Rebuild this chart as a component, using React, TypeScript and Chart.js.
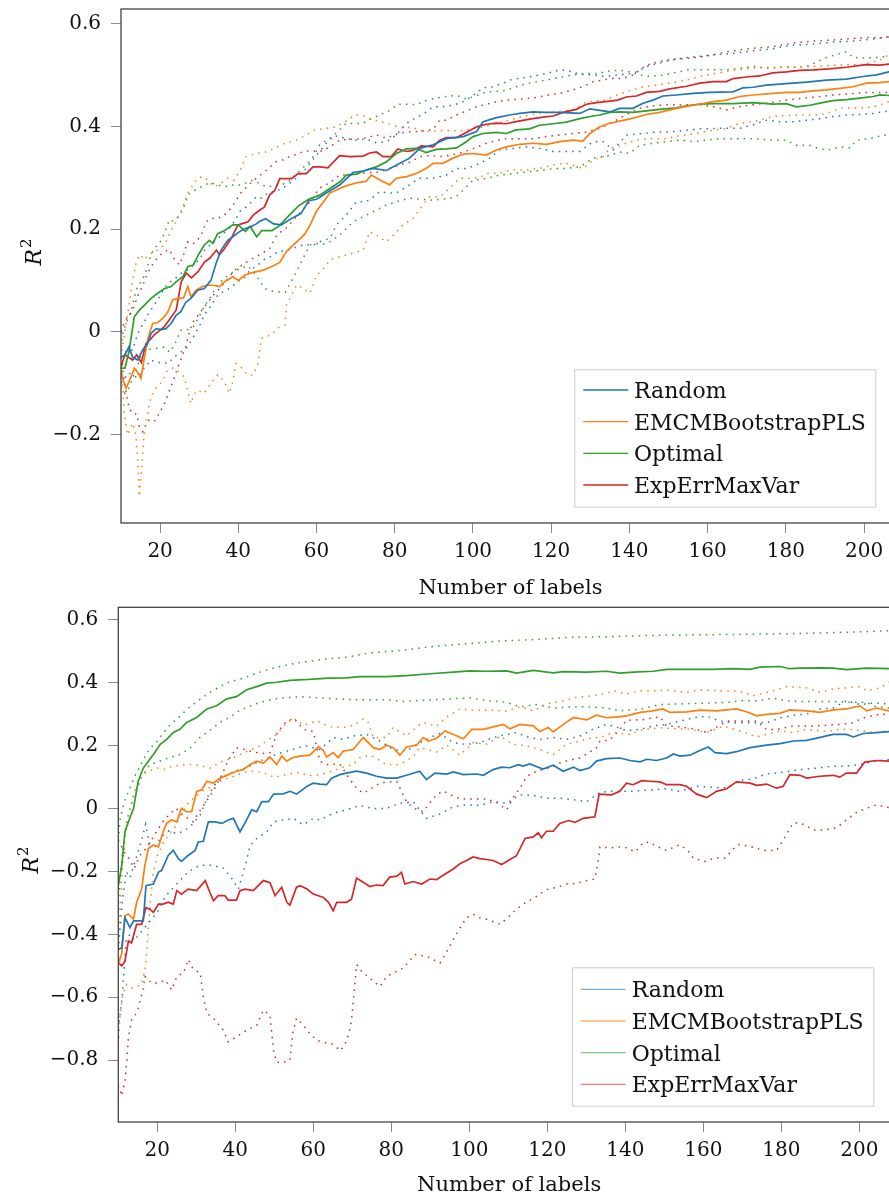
import React, { useEffect, useRef } from 'react';
import { Chart, registerables } from 'chart.js';

Chart.register(...registerables);

type P = [number, number][];

const FONT = "'DejaVu Serif', serif";
const seriesLabels = ['Random', 'EMCMBootstrapPLS', 'Optimal', 'ExpErrMaxVar'];
const seriesColors = ['#1f77b4', '#ff7f0e', '#2ca02c', '#d62728'];
const xTickValues = [20, 40, 60, 80, 100, 120, 140, 160, 180, 200];
const topYTicks = [-0.2, 0, 0.2, 0.4, 0.6];
const bottomYTicks = [-0.8, -0.6, -0.4, -0.2, 0, 0.2, 0.4, 0.6];
const xAxisTitle = 'Number of labels';

// ---------- top panel ----------
const topRandomMean: P = [[10,-0.05],[11,-0.045],[12,-0.03],[13,-0.05],[14.3,-0.055],[15.5,-0.036],[16.8,-0.023],[17.7,-0.003],[19,0.006],[20.2,0.004],[21.5,0.006],[22.8,0.016],[24.1,0.032],[25.3,0.039],[26.6,0.058],[27.9,0.065],[29.6,0.081],[31.3,0.084],[33,0.1],[34.3,0.133],[35.6,0.159],[37.3,0.178],[38.6,0.185],[40.3,0.195],[41.5,0.2],[43.3,0.205],[44.6,0.21],[45.5,0.215],[47,0.22],[49,0.21],[51,0.208],[53.5,0.22],[56,0.23],[58,0.255],[60,0.258],[62.5,0.27],[66,0.286],[69.3,0.31],[71.9,0.313],[74.4,0.318],[77.9,0.314],[81.3,0.328],[83.8,0.338],[86.4,0.357],[89.8,0.364],[93.2,0.376],[97.5,0.38],[100.9,0.39],[102.6,0.409],[106,0.417],[109.4,0.422],[112,0.425],[115.4,0.428],[118.8,0.427],[122.2,0.427],[127.3,0.425],[129.9,0.434],[133.3,0.43],[135,0.428],[137.5,0.435],[140.9,0.435],[143.5,0.445],[146,0.451],[148.6,0.459],[152,0.461],[156.3,0.464],[160.5,0.466],[166.5,0.467],[169,0.475],[171.6,0.476],[175,0.48],[180.1,0.483],[185.3,0.486],[190.4,0.49],[195.5,0.492],[199.7,0.497],[203.2,0.5],[206.3,0.506],[209,0.508]];
const topRandomUp: P = [[10,-0.05],[11,-0.04],[12,-0.035],[13,-0.036],[14,-0.01],[14.7,0.003],[16,0.02],[17,0.035],[19,0.058],[20,0.07],[21.9,0.094],[23.3,0.1],[25.4,0.114],[27,0.12],[28.5,0.13],[30,0.14],[31.5,0.16],[33,0.17],[34.5,0.18],[36,0.19],[37.5,0.2],[39,0.215],[40.5,0.235],[41.6,0.24],[43,0.25],[44.6,0.263],[46,0.26],[47.5,0.27],[50,0.275],[52.5,0.285],[55,0.3],[57,0.315],[58.5,0.33],[60.8,0.351],[62.5,0.367],[64.6,0.382],[67.6,0.376],[70.2,0.373],[72.7,0.375],[75.3,0.368],[77.9,0.37],[80.4,0.383],[83,0.406],[85.5,0.417],[87.5,0.425],[89.8,0.438],[92.3,0.438],[94.9,0.441],[97.5,0.448],[100,0.46],[102.6,0.475],[105.1,0.477],[107.7,0.484],[110.2,0.492],[113.7,0.495],[117,0.5],[120.5,0.506],[122.2,0.51],[124.5,0.508],[127.3,0.501],[130.7,0.5],[134.1,0.497],[137,0.5],[140.9,0.503],[144.3,0.516],[146,0.52],[149.5,0.527],[152.9,0.532],[156.3,0.535],[161.4,0.539],[166.5,0.542],[171.6,0.547],[176.7,0.551],[181.8,0.558],[187,0.56],[192.1,0.564],[197.2,0.566],[202.3,0.57],[206.3,0.574],[209,0.575]];
const topRandomLow: P = [[10,-0.1],[11,-0.09],[12,-0.08],[13,-0.085],[14.3,-0.09],[16,-0.07],[17.7,-0.055],[19,-0.06],[20.5,-0.06],[22,-0.062],[23.5,-0.05],[25.4,-0.039],[27,-0.03],[28.5,-0.01],[30,0.01],[31.3,0.033],[33,0.05],[34.7,0.071],[36.5,0.08],[38,0.085],[39.8,0.097],[41.5,0.105],[43,0.12],[45,0.13],[46.5,0.14],[48,0.145],[50,0.155],[53,0.16],[55,0.165],[57,0.17],[59,0.168],[60.8,0.175],[63.4,0.182],[65.1,0.208],[67.6,0.227],[70.2,0.253],[72.7,0.253],[74.5,0.262],[76.1,0.273],[78.3,0.27],[80.4,0.27],[83,0.282],[86.4,0.299],[89.8,0.299],[93.2,0.305],[95.8,0.318],[98.3,0.318],[100.9,0.325],[104.3,0.338],[106.8,0.354],[110.2,0.357],[113.7,0.36],[117,0.357],[120.5,0.351],[123.9,0.351],[127.3,0.351],[130.7,0.37],[133.3,0.37],[135.8,0.354],[139.2,0.383],[143.5,0.386],[146.9,0.389],[150.3,0.389],[154,0.392],[158,0.395],[163,0.396],[168.2,0.396],[171.6,0.403],[175,0.412],[178.4,0.409],[182,0.409],[185.3,0.412],[189,0.415],[192.1,0.419],[195.5,0.422],[199,0.423],[202.3,0.425],[206.3,0.43],[209,0.432]];

const topEmcmMean: P = [[10,-0.075],[10.4,-0.091],[11.3,-0.11],[12.6,-0.088],[13.4,-0.071],[14.3,-0.08],[15.1,-0.091],[16,-0.05],[17,-0.01],[18.1,0.016],[19.4,0.018],[20.7,0.026],[22,0.039],[23.2,0.062],[24.5,0.065],[26,0.066],[27.1,0.088],[27.9,0.068],[29.2,0.081],[30.9,0.088],[32.2,0.091],[34,0.09],[35.2,0.088],[36.4,0.097],[38.6,0.107],[40,0.1],[41.6,0.11],[43.5,0.115],[46.4,0.12],[48,0.125],[50.6,0.135],[52.3,0.156],[54.9,0.175],[57,0.19],[58.5,0.21],[60,0.235],[61.5,0.25],[63.4,0.27],[66.8,0.282],[70.2,0.29],[72.7,0.293],[74,0.305],[76.1,0.296],[78.7,0.286],[80.4,0.299],[83,0.302],[85.5,0.308],[88,0.318],[89.8,0.328],[92.3,0.328],[94.9,0.338],[97.5,0.346],[100,0.347],[103.4,0.344],[106,0.354],[108.5,0.36],[112,0.365],[115.4,0.367],[118.8,0.365],[122.2,0.37],[125.6,0.373],[128.1,0.371],[129.9,0.386],[132.4,0.399],[134.9,0.406],[137.5,0.41],[141,0.416],[144.3,0.423],[147.7,0.427],[152,0.435],[156.3,0.441],[161.4,0.448],[164.8,0.451],[168.2,0.458],[171.6,0.461],[176.7,0.464],[180.1,0.466],[183.5,0.466],[187,0.469],[190.4,0.471],[193.8,0.474],[197.2,0.477],[200.6,0.484],[204,0.485],[206.3,0.487],[209,0.49]];
const topEmcmUp: P = [[10,-0.05],[11,0.0],[12,0.05],[13,0.1],[14,0.14],[15,0.15],[16,0.14],[17,0.15],[19.4,0.159],[21.1,0.169],[23,0.2],[24.5,0.221],[26.2,0.25],[27,0.269],[28.3,0.285],[29.6,0.299],[30.9,0.302],[32.2,0.295],[33.9,0.282],[35.6,0.289],[37.3,0.299],[39,0.295],[40.7,0.318],[42,0.341],[43.3,0.344],[44.6,0.347],[47,0.35],[49.5,0.358],[51.9,0.367],[54.9,0.373],[57.4,0.383],[59.5,0.393],[62.5,0.396],[64.5,0.398],[66.5,0.405],[68.5,0.415],[69.8,0.422],[71.5,0.422],[73.2,0.415],[74.9,0.412],[77,0.408],[79.5,0.402],[82.1,0.397],[84.5,0.398],[87.2,0.39],[89.8,0.39],[92.5,0.392],[96.6,0.391],[100,0.395],[103.5,0.4],[107.7,0.409],[112,0.418],[116.2,0.425],[121,0.428],[125.6,0.432],[129,0.448],[134.1,0.451],[135.8,0.458],[139.5,0.468],[143.5,0.477],[147,0.48],[150.3,0.484],[154.6,0.49],[158,0.497],[162,0.503],[166.5,0.509],[170.8,0.513],[174,0.514],[178.4,0.515],[183.5,0.516],[188,0.517],[192,0.519],[195.5,0.52],[198.9,0.52],[201.5,0.524],[204,0.529],[206.3,0.539],[209,0.54]];
const topEmcmLow: P = [[10,-0.05],[10.4,-0.1],[10.9,-0.165],[11.7,-0.201],[12.3,-0.19],[13,-0.178],[13.8,-0.201],[14.3,-0.256],[14.7,-0.321],[15,-0.29],[15.3,-0.263],[15.8,-0.21],[16.4,-0.178],[17,-0.15],[17.7,-0.127],[18.7,-0.112],[19.8,-0.104],[21,-0.09],[21.9,-0.075],[23.2,-0.071],[24.8,-0.078],[26.2,-0.088],[27,-0.115],[27.9,-0.14],[28.7,-0.122],[29.6,-0.114],[31.3,-0.12],[33,-0.1],[34.7,-0.084],[36.3,-0.095],[37.7,-0.12],[38.5,-0.1],[39.4,-0.062],[40.8,-0.07],[42.4,-0.084],[43.8,-0.084],[45,-0.062],[45.9,-0.013],[47.2,-0.01],[48.9,-0.003],[50.6,0.01],[51.9,0.013],[52.3,0.052],[53.2,0.065],[54.9,0.091],[56.5,0.085],[58.3,0.075],[60,0.11],[61.5,0.12],[63.4,0.14],[65.9,0.146],[69.3,0.153],[71.9,0.159],[73.6,0.195],[75.3,0.188],[77.9,0.175],[79.6,0.188],[82.1,0.208],[84.7,0.221],[87.2,0.247],[88.9,0.263],[91.5,0.263],[94,0.279],[96.6,0.299],[99.2,0.299],[101.7,0.3],[103.4,0.308],[106.8,0.309],[110.2,0.315],[113.7,0.315],[117,0.318],[120.5,0.325],[123.9,0.328],[128.1,0.318],[130.7,0.334],[133.3,0.341],[135,0.357],[136.7,0.36],[139.2,0.367],[141.8,0.373],[145.2,0.376],[149.5,0.376],[152.9,0.382],[156.3,0.385],[160.5,0.391],[164.8,0.396],[168.2,0.406],[171.6,0.409],[176.7,0.419],[180.1,0.421],[183.5,0.422],[187.8,0.422],[190.4,0.425],[193.8,0.435],[197.2,0.436],[200.6,0.436],[204,0.441],[206.3,0.448],[209,0.449]];

const topOptimalMean: P = [[10,-0.071],[11,-0.071],[12,-0.04],[13.4,0.029],[14.7,0.042],[16,0.052],[17.7,0.065],[19.4,0.075],[21.1,0.084],[22.8,0.088],[24.1,0.097],[25.8,0.107],[27.1,0.127],[28.5,0.13],[29.8,0.15],[31.3,0.169],[32.6,0.178],[33.5,0.172],[34.7,0.191],[36.5,0.197],[38.6,0.208],[40,0.208],[41.8,0.195],[43,0.205],[44.7,0.185],[46,0.197],[48.6,0.197],[50.3,0.205],[52.8,0.225],[55.4,0.245],[58,0.258],[60.8,0.266],[63.4,0.279],[66,0.292],[67.6,0.305],[70.2,0.307],[72.7,0.315],[75.3,0.321],[77.9,0.331],[80.4,0.347],[83,0.356],[85.5,0.357],[88,0.349],[90.6,0.355],[93.2,0.356],[95.8,0.358],[98.3,0.37],[100,0.38],[102.6,0.386],[106,0.388],[108.5,0.386],[111,0.393],[114.5,0.395],[117,0.402],[120.5,0.405],[123.9,0.408],[127.3,0.415],[130.7,0.42],[132.4,0.422],[135,0.427],[137.5,0.428],[141,0.427],[144.3,0.43],[147.7,0.433],[152,0.436],[154.6,0.44],[158,0.443],[161.4,0.444],[166.5,0.444],[171.6,0.446],[176.7,0.443],[180.1,0.444],[182.7,0.438],[186.1,0.441],[188.7,0.445],[192,0.45],[195.5,0.452],[198.9,0.455],[202.3,0.458],[204,0.461],[206.3,0.46],[209,0.462]];
const topOptimalUp: P = [[10,-0.03],[10.5,0.0],[11.5,0.02],[12.6,0.04],[13.5,0.07],[14.3,0.09],[15.5,0.1],[16.5,0.12],[17.7,0.15],[18.8,0.165],[19.7,0.17],[21,0.19],[22.4,0.218],[23.5,0.215],[24.7,0.225],[25.8,0.237],[26.6,0.255],[27.5,0.269],[28.8,0.275],[30,0.28],[31.3,0.286],[33,0.29],[35,0.285],[37,0.283],[38.1,0.286],[40,0.285],[41.5,0.288],[43.3,0.295],[45,0.29],[47.2,0.282],[49.7,0.285],[52.3,0.289],[54,0.3],[55.4,0.311],[58,0.33],[59.5,0.345],[60.8,0.364],[63.4,0.377],[65.5,0.39],[67.6,0.406],[70,0.405],[71.9,0.406],[74,0.415],[76.1,0.422],[78.5,0.43],[80.8,0.443],[83,0.443],[85.5,0.442],[88,0.45],[90.6,0.455],[93,0.458],[95.8,0.46],[98.3,0.453],[101,0.46],[103.4,0.467],[106,0.468],[108.5,0.47],[112,0.48],[115,0.485],[118.8,0.49],[122,0.495],[125.6,0.5],[129,0.503],[132,0.503],[135,0.508],[137.5,0.509],[140,0.506],[142.6,0.5],[145.2,0.497],[149,0.5],[152,0.505],[155,0.51],[159.5,0.51],[164.8,0.51],[168.5,0.513],[171.6,0.517],[175,0.513],[178.4,0.515],[183,0.515],[186,0.518],[187.8,0.525],[190.4,0.534],[193,0.54],[195.5,0.545],[197.2,0.534],[200,0.533],[203.2,0.534],[206.3,0.536],[209,0.538]];
const topOptimalLow: P = [[10,-0.107],[11,-0.12],[12,-0.11],[13,-0.09],[14,-0.07],[15,-0.05],[16,-0.036],[17.5,-0.034],[19.4,-0.032],[21,-0.03],[22.5,-0.04],[24,-0.02],[25.3,0.003],[26.7,0.003],[28.5,0.01],[30,0.03],[31.3,0.05],[32.7,0.065],[34.5,0.09],[36.5,0.105],[38.5,0.115],[40.4,0.123],[42.5,0.128],[44.5,0.11],[46.8,0.084],[48,0.08],[49.7,0.078],[52,0.077],[54,0.104],[56,0.135],[58.3,0.169],[60,0.172],[61.5,0.17],[63.4,0.175],[65.9,0.188],[69.3,0.214],[72.7,0.227],[75.3,0.237],[77.9,0.247],[80.4,0.253],[83.8,0.26],[86.5,0.258],[89.8,0.256],[93,0.259],[95.5,0.262],[97.5,0.276],[100,0.295],[103,0.298],[106.8,0.305],[110,0.308],[113.7,0.311],[117,0.314],[120.5,0.318],[123.9,0.318],[127.3,0.321],[130.7,0.338],[133.3,0.341],[135,0.343],[137.5,0.35],[140,0.347],[142.6,0.363],[146,0.367],[149.5,0.37],[152.9,0.373],[156.3,0.37],[159.7,0.373],[163,0.376],[166.5,0.376],[170,0.376],[173.5,0.375],[176.7,0.373],[180.1,0.373],[182.7,0.363],[186,0.363],[188.7,0.356],[190.8,0.354],[193.8,0.36],[196.5,0.358],[198,0.373],[201.4,0.376],[204,0.381],[206.3,0.384],[209,0.386]];

const topExpMean: P = [[10,-0.068],[11,-0.045],[12,-0.05],[13,-0.055],[14,-0.045],[15.2,-0.06],[16.4,-0.023],[17.5,-0.015],[18.5,-0.006],[20,0.003],[21.1,0.01],[22.5,0.025],[24.1,0.042],[25.4,0.097],[26.7,0.114],[28,0.105],[29.7,0.117],[31.4,0.136],[32.7,0.143],[34.4,0.159],[35.2,0.15],[36.5,0.162],[38.2,0.182],[39.9,0.208],[41.2,0.211],[42.5,0.214],[43.8,0.227],[45.5,0.237],[46.7,0.243],[48,0.266],[49.3,0.275],[50.6,0.298],[53.6,0.298],[55.3,0.308],[57.4,0.308],[59.1,0.321],[60.8,0.321],[62.9,0.319],[65.9,0.343],[68.5,0.341],[71.9,0.342],[73.6,0.348],[75.3,0.35],[77,0.341],[79.1,0.341],[80.8,0.356],[83,0.351],[84.7,0.353],[86.8,0.362],[89.8,0.36],[91.5,0.373],[93.2,0.378],[95.8,0.378],[98.3,0.388],[100.9,0.399],[103.4,0.404],[106,0.406],[108.5,0.405],[111,0.409],[114.5,0.414],[117.9,0.418],[120.5,0.42],[123,0.427],[126.4,0.433],[129,0.443],[131.6,0.446],[135,0.449],[137,0.451],[139.2,0.457],[141.8,0.459],[144.3,0.466],[147.7,0.468],[150.3,0.473],[154.6,0.478],[158,0.484],[161.4,0.487],[164.8,0.487],[166.5,0.493],[169.9,0.496],[173.3,0.498],[176.7,0.504],[180.1,0.506],[183.5,0.509],[187,0.51],[191.2,0.512],[195.5,0.515],[200.6,0.52],[204,0.519],[206.3,0.521],[209,0.522]];
const topExpUp: P = [[10,0.0],[10.9,0.02],[12,0.03],[13,0.042],[14.3,0.07],[15.6,0.091],[16.6,0.11],[17.7,0.127],[19.4,0.145],[21.1,0.156],[22.4,0.16],[23.7,0.14],[24.9,0.13],[26,0.15],[27,0.175],[28,0.17],[29.3,0.175],[30.6,0.19],[31.8,0.214],[33,0.221],[34.5,0.22],[36,0.225],[37.5,0.235],[38.7,0.247],[40.8,0.272],[42.5,0.285],[44.6,0.299],[46.5,0.31],[48,0.32],[49.7,0.331],[51.5,0.335],[53.1,0.341],[55,0.346],[57,0.352],[59,0.352],[61.5,0.352],[63.4,0.36],[65.9,0.373],[69.3,0.375],[71.9,0.376],[75.3,0.383],[77.9,0.377],[80.5,0.385],[83,0.389],[86.4,0.39],[89.8,0.394],[91.5,0.412],[93.2,0.412],[95.8,0.422],[98.3,0.43],[100.9,0.438],[103.4,0.443],[106,0.448],[108.5,0.451],[112,0.453],[115.4,0.455],[118.8,0.46],[122.2,0.464],[125.6,0.471],[128.1,0.477],[130.7,0.487],[133.3,0.49],[135,0.493],[138,0.493],[141,0.5],[144.3,0.519],[147.7,0.526],[151.2,0.531],[154.6,0.532],[158,0.535],[161.4,0.539],[164.8,0.545],[168.2,0.549],[171.6,0.552],[176.7,0.555],[181.8,0.562],[187,0.566],[192.1,0.568],[197.2,0.571],[200.6,0.573],[204,0.572],[206.3,0.574],[209,0.576]];
const topExpLow: P = [[10,-0.05],[10.9,-0.1],[12,-0.147],[13,-0.16],[14,-0.16],[14.7,-0.185],[15.6,-0.195],[16.4,-0.18],[17.2,-0.172],[18.5,-0.175],[19.8,-0.159],[21.1,-0.14],[22.4,-0.114],[23.7,-0.088],[24.5,-0.07],[25.5,-0.05],[26.5,-0.03],[27.5,0.0],[28.4,0.019],[30,0.035],[32,0.055],[33.5,0.07],[35.2,0.084],[37,0.1],[39,0.12],[41,0.13],[43,0.14],[45.5,0.15],[48,0.162],[50,0.19],[52,0.2],[55,0.225],[58,0.25],[60.8,0.28],[63.4,0.29],[65.9,0.305],[68.5,0.305],[71.1,0.308],[73.6,0.31],[76.1,0.311],[78.7,0.318],[81.3,0.325],[83.8,0.33],[86.4,0.341],[89,0.343],[92.3,0.341],[95,0.345],[97.5,0.35],[100.5,0.358],[103.4,0.367],[106,0.372],[108.5,0.376],[112,0.376],[115.4,0.376],[118.8,0.38],[122.2,0.383],[125.6,0.386],[129,0.389],[132,0.395],[135,0.405],[138.5,0.42],[142.6,0.435],[146,0.44],[149.5,0.442],[153,0.442],[158,0.442],[161.5,0.438],[164.8,0.432],[168,0.438],[171.6,0.442],[175,0.445],[179,0.45],[183.5,0.454],[188,0.457],[192,0.461],[196,0.463],[200.6,0.466],[204,0.466],[206.3,0.466],[209,0.467]];

// ---------- bottom panel ----------
const botRandomMean: P = [[10,-0.448],[10.9,-0.443],[11.7,-0.347],[13,-0.379],[13.9,-0.357],[15.6,-0.357],[16.4,-0.357],[17.1,-0.245],[19,-0.24],[20.3,-0.202],[21.1,-0.197],[22.8,-0.149],[24.1,-0.133],[25.4,-0.159],[26.2,-0.168],[27.9,-0.149],[29.7,-0.133],[30.5,-0.106],[31.8,-0.104],[33.1,-0.042],[34.8,-0.042],[36.6,-0.047],[38.2,-0.036],[39.5,-0.031],[41.2,-0.074],[42.9,-0.036],[44.2,-0.004],[45.5,-0.01],[46.8,0.022],[48.5,0.022],[49.8,0.046],[52.3,0.047],[54,0.055],[55.7,0.046],[58.4,0.071],[60,0.081],[61.7,0.078],[63.4,0.076],[64.7,0.097],[66.8,0.108],[68.5,0.113],[71.1,0.119],[73.7,0.113],[76.2,0.103],[78.8,0.097],[81.4,0.097],[83.9,0.106],[87.3,0.119],[89,0.092],[91.2,0.113],[94.2,0.11],[95.9,0.117],[98.5,0.108],[101.9,0.11],[103.6,0.106],[106.1,0.124],[108.3,0.132],[110.4,0.13],[112.6,0.14],[113.8,0.135],[115.5,0.142],[118.9,0.126],[121.5,0.138],[124.1,0.119],[126.7,0.132],[128.4,0.121],[130.9,0.13],[132.6,0.151],[135.2,0.159],[138.6,0.161],[141.2,0.153],[143.8,0.149],[145.5,0.157],[148,0.153],[150.6,0.161],[152.3,0.174],[154,0.167],[156.6,0.17],[159.1,0.185],[161.3,0.196],[163,0.178],[166,0.175],[168.5,0.181],[172,0.194],[176.2,0.202],[179.7,0.207],[183.1,0.215],[186.5,0.217],[189.1,0.224],[193.3,0.236],[196.7,0.236],[198.5,0.228],[201,0.239],[204.4,0.242],[207.6,0.245],[210,0.246]];
const botRandomUp: P = [[10,-0.45],[11,-0.3],[12,-0.2],[13,-0.22],[14,-0.18],[16,-0.1],[17,-0.05],[18,-0.11],[19.5,-0.12],[21,-0.09],[23,-0.07],[25,-0.08],[27,-0.07],[29,-0.05],[31,-0.02],[33,0.04],[35,0.08],[37,0.1],[40,0.12],[43,0.13],[46,0.15],[50,0.17],[55,0.19],[58,0.2],[61.7,0.188],[65.1,0.226],[67.7,0.22],[70.2,0.231],[73.7,0.236],[77.1,0.215],[80.5,0.188],[83.9,0.183],[86.5,0.204],[89.9,0.226],[92.5,0.239],[95.9,0.21],[99.3,0.204],[102.7,0.21],[106.1,0.226],[109.6,0.236],[112.1,0.242],[114.7,0.228],[118.1,0.22],[121.5,0.226],[124.9,0.22],[128.4,0.231],[131.6,0.252],[135.2,0.268],[137,0.262],[140.3,0.248],[143.8,0.252],[147.2,0.263],[150.6,0.268],[154,0.278],[157.4,0.289],[160.9,0.294],[164.3,0.278],[167.7,0.273],[171.1,0.273],[176.2,0.273],[179.7,0.289],[183.1,0.297],[186.5,0.301],[189.9,0.317],[193.3,0.32],[196.7,0.343],[200.2,0.331],[203.6,0.336],[207.6,0.333],[210,0.335]];
const botRandomLow: P = [[10,-0.7],[11,-0.6],[12,-0.42],[13,-0.4],[14,-0.42],[16,-0.39],[18,-0.36],[20,-0.33],[22,-0.28],[25,-0.24],[28,-0.2],[31,-0.18],[34,-0.18],[37,-0.19],[39,-0.22],[40.8,-0.256],[42.8,-0.17],[43.8,-0.117],[45.5,-0.095],[48.1,-0.074],[49.8,-0.042],[52.3,-0.036],[54.9,-0.031],[57.4,-0.052],[60,-0.031],[61.7,-0.036],[65.1,-0.015],[68.5,-0.004],[71.9,0.01],[75.4,0.0],[78.8,0.001],[82.2,0.017],[85.6,0.022],[89,-0.031],[92.5,-0.017],[95.9,0.006],[99.3,0.012],[102.7,0.01],[106.1,0.022],[109.6,0.017],[113,0.044],[116.4,0.042],[119.8,0.033],[123.2,0.033],[126.7,0.028],[130.1,0.022],[133.5,0.052],[136.5,0.055],[142,0.055],[147.2,0.06],[150.6,0.063],[154,0.055],[158.3,0.071],[162.6,0.068],[166,0.066],[169.4,0.089],[172.8,0.095],[176.2,0.11],[180.5,0.116],[184.8,0.124],[189.1,0.129],[193.3,0.135],[196.7,0.135],[200.2,0.14],[203.6,0.151],[207.6,0.156],[210,0.157]];

const botEmcmMean: P = [[10,-0.496],[10.9,-0.459],[11.7,-0.341],[12.6,-0.336],[13.9,-0.352],[14.7,-0.298],[16,-0.256],[16.8,-0.181],[17.7,-0.127],[19,-0.116],[20.3,-0.122],[21.5,-0.074],[22.4,-0.047],[23.7,-0.036],[25,-0.042],[26.2,0.001],[27.5,-0.01],[28.8,-0.01],[30.1,0.055],[31.4,0.06],[32.7,0.087],[34.4,0.081],[36.1,0.097],[38.2,0.108],[40.3,0.119],[42,0.124],[43.8,0.14],[45.5,0.151],[47.2,0.145],[48.9,0.164],[50.6,0.14],[51.9,0.167],[53.2,0.151],[54.6,0.162],[56.6,0.167],[59.1,0.17],[61.3,0.197],[62.6,0.185],[63.4,0.164],[65.1,0.178],[66.4,0.162],[67.7,0.183],[70.2,0.188],[72.8,0.226],[75.4,0.194],[77.1,0.188],[78.8,0.202],[80.5,0.194],[82.2,0.17],[83.9,0.196],[86.5,0.202],[88.2,0.226],[89.5,0.215],[91.6,0.224],[93.8,0.247],[95.9,0.236],[98.5,0.222],[100.6,0.252],[103.6,0.252],[106.1,0.26],[108.7,0.268],[110.4,0.254],[113,0.268],[116.4,0.263],[118.1,0.245],[120.2,0.258],[121.5,0.244],[124.1,0.268],[126.7,0.29],[130.1,0.282],[132.6,0.297],[135.2,0.289],[138,0.292],[140.3,0.295],[143.8,0.306],[146.5,0.31],[149.7,0.317],[151.4,0.306],[155.7,0.308],[159.1,0.313],[163.4,0.311],[168.5,0.317],[171.1,0.308],[173.7,0.295],[176.2,0.3],[179.6,0.303],[182.2,0.314],[186.5,0.311],[189.9,0.306],[193.3,0.314],[196.7,0.317],[200.2,0.327],[201.9,0.311],[204.4,0.32],[207.6,0.311],[210,0.312]];
const botEmcmUp: P = [[10,-0.45],[10.5,-0.3],[11,-0.2],[12,-0.05],[13,0.0],[14,0.05],[15,0.08],[16,0.1],[17,0.115],[18,0.12],[20,0.129],[22,0.125],[24,0.135],[27.5,0.14],[30,0.14],[33.5,0.129],[36.5,0.15],[39.5,0.162],[42.5,0.18],[45.5,0.194],[48,0.215],[50.6,0.236],[53,0.27],[54.9,0.288],[57.5,0.265],[60.9,0.279],[62.5,0.27],[64.5,0.26],[67.7,0.258],[70.5,0.265],[72.8,0.285],[74,0.275],[75.4,0.226],[78.8,0.226],[80.5,0.258],[83.9,0.231],[86.5,0.26],[88.2,0.274],[91.6,0.262],[94,0.29],[97.6,0.317],[101,0.313],[104.4,0.313],[106.1,0.313],[109.6,0.31],[113,0.324],[116.4,0.311],[119.8,0.333],[124.1,0.343],[127.4,0.354],[131.7,0.359],[135.2,0.367],[136.9,0.375],[140.3,0.365],[143.8,0.375],[147.2,0.375],[150.6,0.377],[155.7,0.37],[159.1,0.377],[164.3,0.375],[169.4,0.373],[172.8,0.359],[177.9,0.375],[181.4,0.388],[186.5,0.384],[189.9,0.37],[193.3,0.381],[196.7,0.384],[200.2,0.388],[201.9,0.375],[205.3,0.384],[207.6,0.402],[210,0.405]];
const botEmcmLow: P = [[10,-0.75],[10.5,-0.65],[11,-0.6],[12,-0.56],[13,-0.57],[14,-0.57],[15,-0.565],[16,-0.56],[17,-0.5],[17.6,-0.4],[18.2,-0.3],[19,-0.2],[20,-0.15],[21.5,-0.11],[23,-0.08],[24.5,-0.06],[26,-0.02],[28,0.02],[30,0.04],[32,0.06],[34,0.07],[36.5,0.09],[39,0.1],[41.5,0.112],[44,0.12],[47,0.115],[50,0.1],[53,0.108],[56,0.115],[59,0.105],[61.7,0.108],[65.1,0.12],[68.5,0.135],[70.2,0.14],[71.9,0.162],[74.5,0.17],[76.2,0.16],[78.8,0.14],[82.2,0.14],[85.6,0.165],[87.3,0.194],[91.6,0.18],[94.2,0.202],[97.6,0.17],[101,0.21],[104.4,0.205],[108,0.231],[111.2,0.204],[114.7,0.2],[118.1,0.188],[121.5,0.172],[124.9,0.204],[128.4,0.215],[131.7,0.226],[133.5,0.226],[136.9,0.242],[141.2,0.236],[144.6,0.252],[148.9,0.257],[153.2,0.254],[156.6,0.252],[160.9,0.242],[165.2,0.262],[169.4,0.247],[173.7,0.228],[176.2,0.236],[179.7,0.247],[183.1,0.242],[186.5,0.252],[191.6,0.245],[195,0.252],[198.5,0.252],[203.6,0.242],[207.6,0.247],[210,0.248]];

const botOptimalMean: P = [[10,-0.245],[10.9,-0.18],[11.7,-0.074],[12.6,-0.042],[13.9,0.0],[15.1,0.087],[16.4,0.129],[17.7,0.151],[19,0.172],[20.7,0.204],[22.4,0.22],[24.1,0.242],[25.8,0.252],[27.5,0.274],[30.1,0.29],[32.7,0.317],[35.2,0.327],[37.8,0.349],[40.3,0.356],[42.9,0.378],[45.5,0.388],[48,0.399],[50.6,0.402],[54,0.408],[57.5,0.41],[60.9,0.413],[63.9,0.415],[68.5,0.416],[71.9,0.42],[78.8,0.42],[83.9,0.423],[89.9,0.429],[95.9,0.434],[100.2,0.438],[104.4,0.437],[109.6,0.438],[112.1,0.431],[116.4,0.44],[121.5,0.432],[124.1,0.436],[130.1,0.434],[135.2,0.437],[138.6,0.431],[142,0.434],[147.2,0.437],[150.6,0.443],[157.4,0.443],[162.6,0.443],[167.7,0.445],[172,0.443],[174.5,0.45],[179.7,0.452],[182.2,0.445],[184.8,0.447],[189.9,0.448],[193.3,0.447],[196.7,0.442],[201.9,0.447],[207.6,0.445],[210,0.446]];
const botOptimalUp: P = [[10,-0.1],[10.5,-0.03],[11.5,0.02],[12.8,0.06],[14.5,0.11],[16.2,0.15],[18,0.19],[19.7,0.21],[21.5,0.24],[23.5,0.27],[25.5,0.29],[27.5,0.315],[30.1,0.34],[33.5,0.37],[37.8,0.4],[42,0.415],[46.3,0.434],[50.6,0.45],[55.7,0.463],[60.9,0.472],[64,0.477],[68.5,0.482],[74.5,0.495],[83,0.504],[91.6,0.517],[100,0.525],[108.7,0.534],[117.3,0.538],[125.8,0.545],[135,0.547],[141,0.549],[150.6,0.552],[167.7,0.554],[184.8,0.557],[201.9,0.563],[207.6,0.566],[210,0.567]];
const botOptimalLow: P = [[10,-0.3],[10.5,-0.22],[11,-0.15],[12,-0.05],[13,0.0],[14,0.04],[16,0.1],[18.1,0.14],[20.5,0.15],[23,0.162],[25.8,0.172],[28.2,0.19],[30.9,0.226],[33.3,0.247],[36.1,0.275],[38.5,0.29],[41.2,0.313],[43.6,0.325],[46.3,0.338],[51.5,0.352],[56.6,0.356],[61.7,0.352],[70.2,0.346],[78.8,0.346],[83.1,0.341],[91.6,0.347],[100.2,0.352],[104.4,0.344],[109.6,0.338],[113,0.324],[117.3,0.331],[121.5,0.32],[126.7,0.324],[130,0.324],[135.2,0.32],[138.6,0.311],[143.8,0.316],[148.9,0.331],[154,0.333],[159.1,0.335],[166,0.338],[169.4,0.343],[173.7,0.343],[178,0.351],[181.4,0.343],[184.8,0.341],[191.6,0.341],[198.5,0.338],[201.9,0.338],[204.4,0.324],[207.6,0.32],[210,0.32]];

const botExpMean: P = [[10,-0.491],[10.9,-0.5],[11.7,-0.486],[12.6,-0.421],[13.4,-0.427],[14.7,-0.368],[16,-0.368],[17.1,-0.315],[18.1,-0.32],[19,-0.33],[20.3,-0.304],[21.5,-0.304],[22.8,-0.298],[24.1,-0.304],[25,-0.261],[26.2,-0.272],[27.9,-0.256],[30.1,-0.261],[32.3,-0.229],[33.5,-0.267],[34.4,-0.293],[35.6,-0.277],[37.3,-0.277],[38.2,-0.291],[40.3,-0.291],[41.2,-0.261],[42.5,-0.256],[44.6,-0.261],[47.2,-0.229],[48.9,-0.236],[50.2,-0.277],[51.9,-0.25],[53.2,-0.298],[54,-0.307],[55.7,-0.25],[56.6,-0.245],[58.4,-0.256],[60,-0.272],[62.6,-0.283],[63.9,-0.298],[65.1,-0.325],[66,-0.298],[68.5,-0.298],[69.8,-0.288],[71.1,-0.221],[72.8,-0.234],[74.5,-0.248],[76.2,-0.243],[77.9,-0.245],[79.6,-0.218],[81.4,-0.215],[82.6,-0.203],[83.5,-0.24],[85.6,-0.232],[87.8,-0.24],[89.9,-0.224],[91.6,-0.226],[93.8,-0.208],[95.9,-0.192],[97.6,-0.175],[99.3,-0.165],[101,-0.154],[102.7,-0.159],[104.4,-0.162],[106.1,-0.165],[108.3,-0.178],[110.4,-0.162],[112.1,-0.15],[114.3,-0.095],[116.4,-0.09],[117.7,-0.077],[118.5,-0.093],[119.8,-0.072],[121.5,-0.072],[123.2,-0.047],[125.4,-0.038],[127.1,-0.044],[129.2,-0.031],[132.2,-0.026],[133.3,0.046],[136.5,0.044],[138.6,0.055],[140.3,0.081],[142,0.076],[144.2,0.089],[146.3,0.087],[148.9,0.085],[150.6,0.076],[154,0.076],[155.7,0.071],[158.3,0.046],[160.9,0.035],[163.4,0.055],[166,0.063],[168.5,0.085],[172,0.081],[173.7,0.074],[176.2,0.078],[178.8,0.065],[180.5,0.071],[182.2,0.108],[184.8,0.106],[186.5,0.097],[189.9,0.103],[193.3,0.106],[195,0.1],[196.7,0.113],[199.3,0.113],[201.4,0.148],[204.4,0.153],[207.6,0.151],[210,0.152]];
const botExpUp: P = [[10,-0.1],[11.5,-0.138],[12.8,-0.16],[14.1,-0.19],[15.5,-0.15],[17.1,-0.127],[18.5,-0.1],[20.1,-0.068],[21.5,-0.04],[23,-0.02],[24.8,0.001],[26.5,-0.02],[29.1,-0.042],[31.6,0.006],[33.5,0.04],[35,0.07],[37,0.12],[38.5,0.16],[40.3,0.194],[42,0.19],[43.8,0.183],[46.5,0.175],[48.9,0.178],[50.6,0.236],[52.5,0.27],[54.9,0.288],[57.5,0.252],[60,0.245],[61.7,0.151],[63.5,0.14],[66.8,0.142],[69,0.1],[71.1,0.065],[72.8,0.049],[74.5,0.06],[76.2,0.076],[78.8,0.085],[81.4,0.086],[83.9,0.022],[86,0.0],[88.2,-0.01],[90,0.02],[91.6,0.044],[93.3,0.056],[95,0.045],[97.6,0.031],[101,0.03],[104.4,0.031],[107,0.02],[109.6,-0.004],[111.5,0.04],[113,0.065],[114.7,0.103],[117.3,0.119],[120.5,0.13],[124.1,0.15],[128.4,0.161],[132.6,0.193],[133.5,0.215],[136,0.218],[138.5,0.25],[140.3,0.281],[144.5,0.283],[148.9,0.292],[150.6,0.263],[154,0.26],[158.3,0.252],[160.9,0.242],[163.5,0.26],[166,0.279],[170,0.279],[173.7,0.279],[176.2,0.252],[179,0.252],[183.1,0.263],[188,0.263],[192,0.265],[195,0.268],[198,0.272],[201,0.288],[204,0.298],[207.6,0.301],[210,0.302]];
const botExpLow: P = [[10,-0.88],[10.9,-0.914],[11.7,-0.865],[12.2,-0.8],[12.6,-0.726],[13.4,-0.673],[14.3,-0.657],[15.1,-0.635],[15.8,-0.6],[16.4,-0.577],[16.8,-0.534],[17.5,-0.54],[18.5,-0.555],[20.3,-0.555],[22,-0.545],[23.7,-0.577],[25,-0.534],[26.7,-0.523],[28,-0.48],[29.2,-0.512],[31,-0.523],[31.8,-0.6],[32.7,-0.651],[34.4,-0.667],[36.9,-0.705],[38.2,-0.742],[40.3,-0.726],[42.9,-0.705],[45.5,-0.689],[47.2,-0.641],[48.9,-0.657],[49.8,-0.769],[50.6,-0.807],[52.3,-0.807],[54,-0.801],[54.7,-0.716],[55.7,-0.667],[57.4,-0.689],[59.1,-0.716],[60.9,-0.737],[63.4,-0.746],[65,-0.75],[67,-0.77],[68.5,-0.74],[69.4,-0.7],[69.8,-0.673],[70.5,-0.58],[71.1,-0.496],[72.4,-0.518],[74.5,-0.54],[77.1,-0.566],[78.8,-0.534],[81,-0.52],[83.1,-0.507],[84.6,-0.485],[86.1,-0.464],[89.1,-0.47],[92.5,-0.491],[94,-0.46],[95.9,-0.416],[97.6,-0.38],[99.3,-0.347],[101,-0.336],[102.7,-0.347],[104.4,-0.352],[106.2,-0.36],[107.9,-0.368],[110,-0.345],[112.1,-0.32],[114.3,-0.3],[116.4,-0.286],[119.8,-0.258],[122.5,-0.25],[125,-0.24],[127.5,-0.238],[130.1,-0.229],[132.2,-0.224],[133,-0.17],[133.5,-0.122],[136.1,-0.125],[138.6,-0.122],[140.5,-0.125],[142.5,-0.138],[144.6,-0.108],[146.3,-0.107],[148,-0.12],[150.6,-0.133],[154,-0.115],[156,-0.133],[157.4,-0.157],[160.4,-0.168],[163,-0.157],[165.6,-0.157],[167.7,-0.128],[169,-0.114],[172,-0.12],[175.4,-0.133],[178.8,-0.133],[180.5,-0.1],[182.2,-0.063],[183.1,-0.045],[184.8,-0.046],[186.5,-0.055],[188.2,-0.068],[191,-0.068],[194.2,-0.061],[196.7,-0.036],[199.3,-0.012],[201.9,0.001],[204.4,0.012],[207.6,0.003],[210,0.005]];

const topSeries: P[][] = [
  [topRandomMean, topRandomUp, topRandomLow],
  [topEmcmMean, topEmcmUp, topEmcmLow],
  [topOptimalMean, topOptimalUp, topOptimalLow],
  [topExpMean, topExpUp, topExpLow],
];
const bottomSeries: P[][] = [
  [botRandomMean, botRandomUp, botRandomLow],
  [botEmcmMean, botEmcmUp, botEmcmLow],
  [botOptimalMean, botOptimalUp, botOptimalLow],
  [botExpMean, botExpUp, botExpLow],
];

interface PanelCfg {
  canvasTop: number;
  canvasW: number;
  canvasH: number;
  areaLeft: number;
  areaTop: number;
  areaBottom: number;
  xMin: number;
  xMax: number;
  yMin: number;
  yMax: number;
  yTicks: number[];
  series: P[][];
  titlePadBottom: number;
  legend: { x: number; y: number; w: number; h: number; lineX0: number; lineX1: number; textX: number; rows: number[]; alpha: number };
  ylabel: { x: number; y: number };
}

const TOP_PANEL: PanelCfg = {
  canvasTop: 0, canvasW: 900, canvasH: 600,
  areaLeft: 121, areaTop: 9, areaBottom: 523,
  xMin: 10, xMax: 10 + 779 / 3.911, yMin: -0.3724, yMax: 0.6284,
  yTicks: topYTicks, series: topSeries, titlePadBottom: -1.5,
  legend: { x: 574.3, y: 369.3, w: 301, h: 137.4, lineX0: 583.3, lineX1: 628.3, textX: 634, rows: [390, 421.7, 453.3, 485], alpha: 1 },
  ylabel: { x: 33, y: 252 },
};

const BOTTOM_PANEL: PanelCfg = {
  canvasTop: 596, canvasW: 900, canvasH: 600,
  areaLeft: 118.3, areaTop: 11.3, areaBottom: 526,
  xMin: 10, xMax: 10 + (900 - 118.3) / 3.9, yMin: -0.997, yMax: 0.6404,
  yTicks: bottomYTicks, series: bottomSeries, titlePadBottom: -2.5,
  legend: { x: 572, y: 371.3, w: 301.3, h: 138.4, lineX0: 580.7, lineX1: 625.7, textX: 631.7, rows: [393.3, 425, 456.7, 488.3], alpha: 0.6 },
  ylabel: { x: 30, y: 264 },
};

function fmtY(v: number): string {
  const r = Math.round(v * 10) / 10;
  if (Math.abs(r) < 1e-9) return '0';
  return r < 0 ? '\u2212' + Math.abs(r).toFixed(1) : r.toFixed(1);
}

function hexAlpha(hex: string, a: number): string {
  const n = parseInt(hex.slice(1), 16);
  return `rgba(${(n >> 16) & 255},${(n >> 8) & 255},${n & 255},${a})`;
}

function Panel({ cfg }: { cfg: PanelCfg }) {
  const ref = useRef<HTMLCanvasElement | null>(null);
  useEffect(() => {
    const canvas = ref.current;
    if (!canvas) return;
    const datasets: any[] = [];
    cfg.series.forEach((group, i) => {
      const color = seriesColors[i];
      group.forEach((arr, k) => {
        datasets.push({
          label: k === 0 ? seriesLabels[i] : seriesLabels[i] + (k === 1 ? ' upper' : ' lower'),
          data: arr.map(([x, y]) => ({ x, y })),
          borderColor: color,
          backgroundColor: color,
          borderWidth: k === 0 ? 1.7 : 1.5,
          borderDash: k === 0 ? [] : [1.5, 5.2],
          borderCapStyle: 'butt',
          pointRadius: 0,
          fill: false,
          tension: 0,
          order: k === 0 ? 0 : 1,
        });
      });
    });

    const decor = {
      id: 'decor',
      afterDatasetsDraw(chart: any) {
        const { ctx, chartArea: a } = chart;
        ctx.save();
        ctx.strokeStyle = '#444';
        ctx.lineWidth = 1.3;
        ctx.strokeRect(a.left, a.top, a.right - a.left, a.bottom - a.top);
        ctx.restore();
      },
      afterDraw(chart: any) {
        const { ctx } = chart;
        const L = cfg.legend;
        ctx.save();
        ctx.fillStyle = '#fff';
        ctx.fillRect(L.x, L.y, L.w, L.h);
        ctx.strokeStyle = '#cccccc';
        ctx.lineWidth = 1;
        ctx.strokeRect(L.x + 0.5, L.y + 0.5, L.w, L.h);
        ctx.font = `22px ${FONT}`;
        ctx.textBaseline = 'alphabetic';
        ctx.textAlign = 'left';
        seriesLabels.forEach((lab, i) => {
          const y = L.rows[i];
          ctx.strokeStyle = hexAlpha(seriesColors[i], L.alpha);
          ctx.lineWidth = 1.3;
          ctx.beginPath();
          ctx.moveTo(L.lineX0, y);
          ctx.lineTo(L.lineX1, y);
          ctx.stroke();
          ctx.fillStyle = '#111';
          ctx.fillText(lab, L.textX, y + 8);
        });
        // y-axis label R^2
        ctx.translate(cfg.ylabel.x, cfg.ylabel.y);
        ctx.rotate(-Math.PI / 2);
        ctx.font = `italic 22px ${FONT}`;
        const wR = ctx.measureText('R').width;
        ctx.font = `15px ${FONT}`;
        const w2 = ctx.measureText('2').width;
        const start = -(wR + w2 + 1) / 2;
        ctx.fillStyle = '#111';
        ctx.font = `italic 22px ${FONT}`;
        ctx.fillText('R', start, 8);
        ctx.font = `15px ${FONT}`;
        ctx.fillText('2', start + wR + 1, -2);
        ctx.restore();
      },
    };

    const chart = new Chart(canvas, {
      type: 'line',
      data: { datasets },
      options: {
        animation: false,
        responsive: false,
        devicePixelRatio: 1,
        layout: { padding: { left: 0, right: 0, top: cfg.areaTop, bottom: 0 } },
        plugins: { legend: { display: false }, tooltip: { enabled: false }, title: { display: false } },
        scales: {
          x: {
            type: 'linear',
            min: cfg.xMin,
            max: cfg.xMax,
            afterFit: (s: any) => { s.height = cfg.canvasH - cfg.areaBottom; s.paddingLeft = 0; s.paddingRight = 0; },
            afterBuildTicks: (s: any) => { s.ticks = xTickValues.map((v) => ({ value: v })); },
            border: { display: false },
            grid: { display: true, drawOnChartArea: false, drawTicks: true, tickLength: 10, color: '#8a8a8a', lineWidth: 1 },
            ticks: { font: { family: FONT, size: 20 }, color: '#111', padding: 7, maxRotation: 0, autoSkip: false, callback: (v: any) => String(v) },
            title: { display: true, text: xAxisTitle, font: { family: FONT, size: 21 }, color: '#111', padding: { top: 0, bottom: cfg.titlePadBottom } },
          },
          y: {
            type: 'linear',
            min: cfg.yMin,
            max: cfg.yMax,
            afterFit: (s: any) => { s.width = cfg.areaLeft; s.paddingTop = 0; s.paddingBottom = 0; },
            afterBuildTicks: (s: any) => { s.ticks = cfg.yTicks.map((v) => ({ value: v })); },
            border: { display: false },
            grid: { display: true, drawOnChartArea: false, drawTicks: true, tickLength: 10, color: '#8a8a8a', lineWidth: 1 },
            ticks: { font: { family: FONT, size: 20 }, color: '#111', padding: 10, autoSkip: false, callback: (v: any) => fmtY(Number(v)) },
          },
        },
      },
      plugins: [decor],
    } as any);
    return () => chart.destroy();
  }, [cfg]);

  return (
    <div style={{ position: 'absolute', left: 0, top: cfg.canvasTop, width: cfg.canvasW, height: cfg.canvasH }}>
      <canvas ref={ref} width={cfg.canvasW} height={cfg.canvasH} style={{ display: 'block', width: cfg.canvasW, height: cfg.canvasH }} />
    </div>
  );
}

export default function App() {
  return (
    <div style={{ position: 'fixed', left: 0, top: 0, width: 889, height: 1196, overflow: 'hidden', background: '#ffffff' }}>
      <Panel cfg={TOP_PANEL} />
      <Panel cfg={BOTTOM_PANEL} />
    </div>
  );
}
